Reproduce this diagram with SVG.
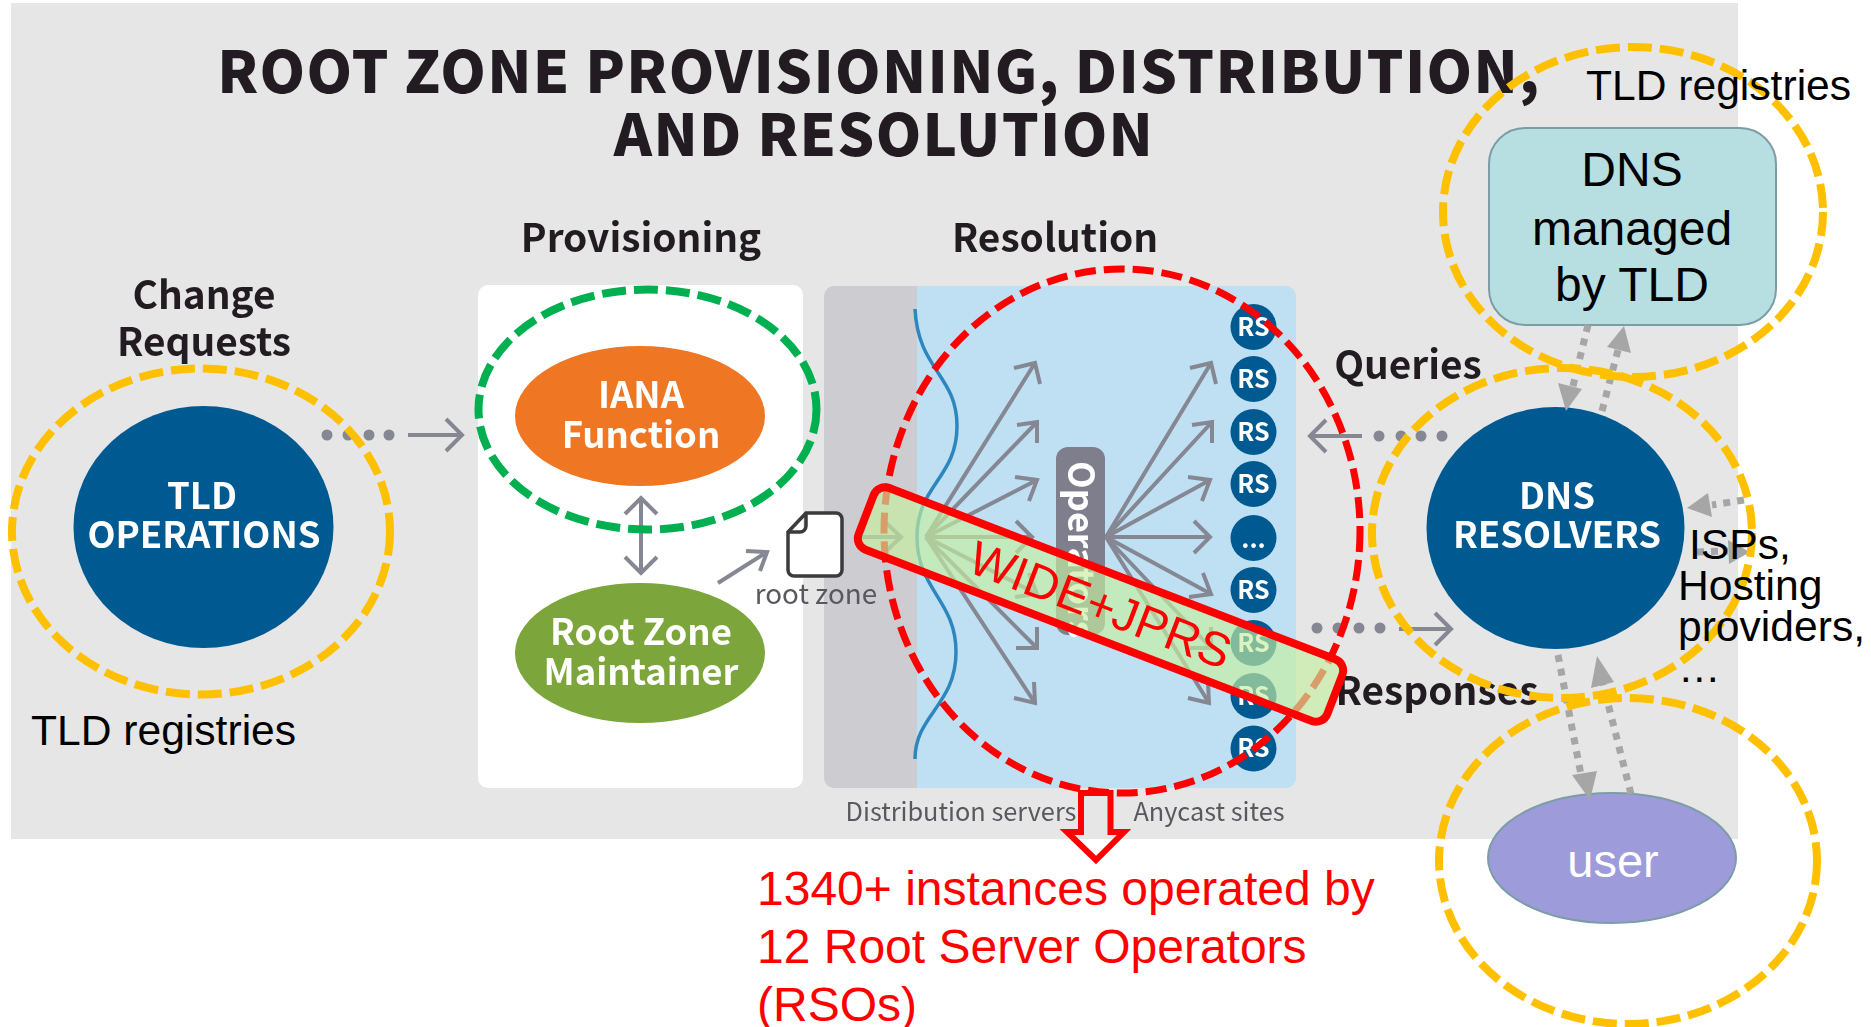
<svg xmlns="http://www.w3.org/2000/svg" width="1871" height="1027" viewBox="0 0 1871 1027">
<style>
.src{font-family:"Noto Sans CJK SC","Noto Sans",sans-serif}
.b{font-weight:700}
.ar{font-family:"Liberation Sans",Arial,sans-serif}
.hd{font-size:38.800px;fill:#231f20;text-anchor:middle}
.nd{font-size:36.500px;fill:#fff;text-anchor:middle}
.sm{font-size:25.300px;fill:#58585f;text-anchor:middle}
.rs{font-size:25px;fill:#fff;text-anchor:middle}
.k{font-size:42.600px;fill:#000}
.r{font-size:48px;fill:#f00}
.o{fill:none;stroke:#ffc000;stroke-width:8;stroke-dasharray:24 8}
.fan{fill:none;stroke:#858792;stroke-width:4}
.dot{fill:#858792}
.dd{fill:none;stroke:#a6a6a6;stroke-width:7;stroke-dasharray:7 7}
.dh{fill:#a6a6a6}
.ttl{font-size:58px;fill:#231f20;text-anchor:middle;font-weight:900;letter-spacing:1.3px}
</style>
<defs><filter id="soft" x="-2%" y="-2%" width="104%" height="104%"><feGaussianBlur stdDeviation="0.6"/></filter></defs>
<rect width="1871" height="1027" fill="#fff"/>
<g id="infographic" filter="url(#soft)">
<rect x="11" y="3" width="1727" height="836" fill="#e6e6e7"/>
<text class="src ttl" x="879" y="93">ROOT ZONE PROVISIONING, DISTRIBUTION,</text>
<text class="src ttl" x="884" y="156">AND RESOLUTION</text>
<text class="src b hd" x="641" y="252">Provisioning</text>
<text class="src b hd" x="1055" y="252">Resolution</text>
<text class="src b hd" x="204" y="309">Change</text>
<text class="src b hd" x="204" y="356">Requests</text>
<text class="src b hd" x="1408" y="379">Queries</text>
<text class="src b hd" x="1437" y="705">Responses</text>
<g id="panel-provisioning"><rect x="478" y="285" width="325" height="503" rx="10" fill="#fff"/></g>
<g id="panel-resolution">
<path d="M917 286H834a10 10 0 0 0-10 10V778a10 10 0 0 0 10 10H917Z" fill="#cdcdd1"/>
<path d="M917 286H1286a10 10 0 0 1 10 10V778a10 10 0 0 1-10 10H917Z" fill="#bfe0f3"/>
<path d="M915 309C918 370 957 375 957 426C957 478 917 485 917 537C917 590 956 600 956 652C956 705 915 715 915 759" fill="none" stroke="#2e86bf" stroke-width="3.500"/>
</g>
<g id="connectors">
<g class="fan">
<path d="M641 499V572M625 514L641 498L657 514M625 557L641 573L657 557"/>
<path d="M718 583L767 552M746 551L767 552L760 571"/>
<path d="M855 537H901M884 521L901 537L884 553"/>
<path d="M926 537L1035 363M1014 368L1035 363L1040 384"/>
<path d="M926 537L1037 422M1017 425L1037 422L1037 443"/>
<path d="M926 537L1037 480M1015 477L1037 480L1029 501"/>
<path d="M926 537H1032M1016 521L1032 537L1016 553"/>
<path d="M926 537L1037 594M1029 573L1037 594L1015 597"/>
<path d="M926 537L1037 648M1037 627L1037 648L1016 648"/>
<path d="M926 537L1035 703M1034 682L1035 703L1014 698"/>
<path d="M1106 537L1211 363M1190 368L1211 363L1216 384"/>
<path d="M1106 537L1212 422M1192 425L1212 422L1212 443"/>
<path d="M1106 537L1210 480M1188 477L1210 480L1202 501"/>
<path d="M1106 537H1210M1194 521L1210 537L1194 553"/>
<path d="M1106 537L1211 594M1203 573L1211 594L1189 597"/>
<path d="M1106 537L1211 648M1211 627L1211 648L1190 648"/>
<path d="M1106 537L1209 703M1208 682L1209 703L1188 698"/>
<path d="M408 435H462M446 419L462 435L446 451"/>
<path d="M1362 436H1310M1326 420L1310 436L1326 452"/>
<path d="M1399 629H1451M1435 613L1451 629L1435 645"/>
</g>
<g class="dot">
<circle cx="327" cy="435" r="5.500"/><circle cx="348" cy="435" r="5.500"/><circle cx="369" cy="435" r="5.500"/><circle cx="389" cy="435" r="5.500"/>
<circle cx="1379" cy="436" r="5.500"/><circle cx="1401" cy="436" r="5.500"/><circle cx="1421" cy="436" r="5.500"/><circle cx="1442" cy="436" r="5.500"/>
<circle cx="1317" cy="628" r="5.500"/><circle cx="1338" cy="628" r="5.500"/><circle cx="1359" cy="628" r="5.500"/><circle cx="1380" cy="628" r="5.500"/>
</g>
</g>
<g id="node-operators">
<rect x="1056" y="447" width="49" height="188" rx="12" fill="#7e7e8c"/>
<text class="src b" font-size="36" fill="#fff" transform="translate(1068 461) rotate(90)">Operators</text>
</g>
<g id="node-tld-operations"><ellipse cx="203.500" cy="527" rx="130" ry="121" fill="#005a92"/>
<text class="src b nd" x="202" y="509">TLD</text><text class="src b nd" x="204" y="548">OPERATIONS</text></g>
<g id="node-iana"><ellipse cx="640" cy="416" rx="125" ry="70" fill="#ef7622"/>
<text class="src b nd" x="641" y="408">IANA</text><text class="src b nd" x="641" y="448">Function</text></g>
<g id="node-rzm"><ellipse cx="640" cy="653" rx="125" ry="70" fill="#7ba63a"/>
<text class="src b nd" x="641" y="645">Root Zone</text><text class="src b nd" x="641" y="685">Maintainer</text></g>
<g id="node-root-zone">
<path d="M788 532L806 513H836a6 6 0 0 1 6 6V570a6 6 0 0 1-6 6H794a6 6 0 0 1-6-6ZM788 532H800a6 6 0 0 0 6-6V513" fill="#fff" stroke="#3a3a3c" stroke-width="3.500"/>
<text class="src sm" style="font-size:27.800px" x="816" y="604">root zone</text></g>
<g id="node-dns-resolvers"><ellipse cx="1555.500" cy="528" rx="129" ry="121" fill="#005a92"/>
<text class="src b nd" x="1557" y="509">DNS</text><text class="src b nd" x="1557" y="548">RESOLVERS</text></g>
<g id="rs-sites">
<g fill="#005a92"><circle cx="1253.500" cy="327" r="23"/><circle cx="1253.500" cy="379" r="23"/><circle cx="1253.500" cy="432" r="23"/><circle cx="1253.500" cy="484" r="23"/><circle cx="1253.500" cy="538" r="23"/><circle cx="1253.500" cy="590" r="23"/><circle cx="1253.500" cy="643" r="23"/><circle cx="1253.500" cy="696" r="23"/><circle cx="1253.500" cy="748.500" r="23"/></g>
<text class="src b rs" x="1253.500" y="336">RS</text><text class="src b rs" x="1253.500" y="388">RS</text><text class="src b rs" x="1253.500" y="441">RS</text><text class="src b rs" x="1253.500" y="493">RS</text><text class="src b rs" x="1253.500" y="548">...</text><text class="src b rs" x="1253.500" y="599">RS</text><text class="src b rs" x="1253.500" y="652">RS</text><text class="src b rs" x="1253.500" y="705">RS</text><text class="src b rs" x="1253.500" y="757">RS</text>
</g>
<text class="src sm" x="961" y="821">Distribution servers</text>
<text class="src sm" x="1209" y="821">Anycast sites</text>
</g>
<g id="node-tld-box"><rect x="1489" y="128" width="287" height="197" rx="36" fill="#b7dee1" stroke="#7c9da6" stroke-width="2"/>
<text class="ar" font-size="48" text-anchor="middle" x="1632" y="186">DNS</text><text class="ar" font-size="48" text-anchor="middle" x="1632" y="245">managed</text><text class="ar" font-size="48" text-anchor="middle" x="1632" y="301">by TLD</text></g>
<g id="node-user"><ellipse cx="1612" cy="858" rx="124" ry="65" fill="#9e9bdb" stroke="#7c9da6" stroke-width="2"/>
<text class="ar" font-size="47" fill="#fff" text-anchor="middle" x="1613" y="877">user</text></g>
<g id="dotted-connectors">
<path class="dd" d="M1588 325L1572 390"/><path class="dh" d="M1566 411L1558 383L1582 389Z"/>
<path class="dd" d="M1602 411L1618 350"/><path class="dh" d="M1624 326L1631 353L1607 347Z"/>
<path class="dd" d="M1744 500L1712 505"/><path class="dh" d="M1687 508L1708 493L1712 517Z"/>
<path class="dd" d="M1697 552L1728 551"/><path class="dh" d="M1750 552L1728 540L1729 564Z"/>
<path class="dd" d="M1558 655L1582 780"/><path class="dh" d="M1590 800L1572 775L1597 771Z"/>
<path class="dd" d="M1631 794L1602 680"/><path class="dh" d="M1597 656L1614 682L1591 688Z"/>
</g>
<g id="highlights">
<ellipse class="o" cx="201" cy="531.500" rx="189" ry="163"/>
<ellipse cx="647.500" cy="409.500" rx="169" ry="120" fill="none" stroke="#00b050" stroke-width="8" stroke-dasharray="24 8"/>
<ellipse class="o" cx="1633" cy="212" rx="190" ry="165"/>
<ellipse class="o" cx="1562" cy="533" rx="190" ry="165"/>
<ellipse class="o" cx="1628" cy="861" rx="189" ry="163"/>
<ellipse cx="1122" cy="531" rx="238" ry="262" fill="none" stroke="#f00" stroke-width="7" stroke-dasharray="21 8"/>
</g>
<g id="node-wide-jprs">
<g transform="translate(1100.500 604.500) rotate(21)">
<rect x="-251" y="-33" width="502" height="66" rx="12" fill="#c6efa0" fill-opacity="0.66" stroke="#f00" stroke-width="8"/>
<text class="ar r" text-anchor="middle" y="17">WIDE+JPRS</text>
</g></g>
<g id="down-arrow"><path d="M1081 793V832H1067L1096 860L1124 832H1110.500V793Z" fill="none" stroke="#f00" stroke-width="6"/></g>
<g id="labels">
<text class="ar k" x="31" y="745">TLD registries</text>
<text class="ar k" x="1586" y="100">TLD registries</text>
<text class="ar k" x="1689" y="559">ISPs,</text>
<text class="ar k" x="1678" y="600">Hosting</text>
<text class="ar k" x="1678" y="641">providers,</text>
<text class="ar k" x="1678" y="682">…</text>
<text class="ar r" x="757" y="905">1340+ instances operated by</text>
<text class="ar r" x="757" y="963">12 Root Server Operators</text>
<text class="ar r" x="757" y="1021">(RSOs)</text>
</g>
</svg>
